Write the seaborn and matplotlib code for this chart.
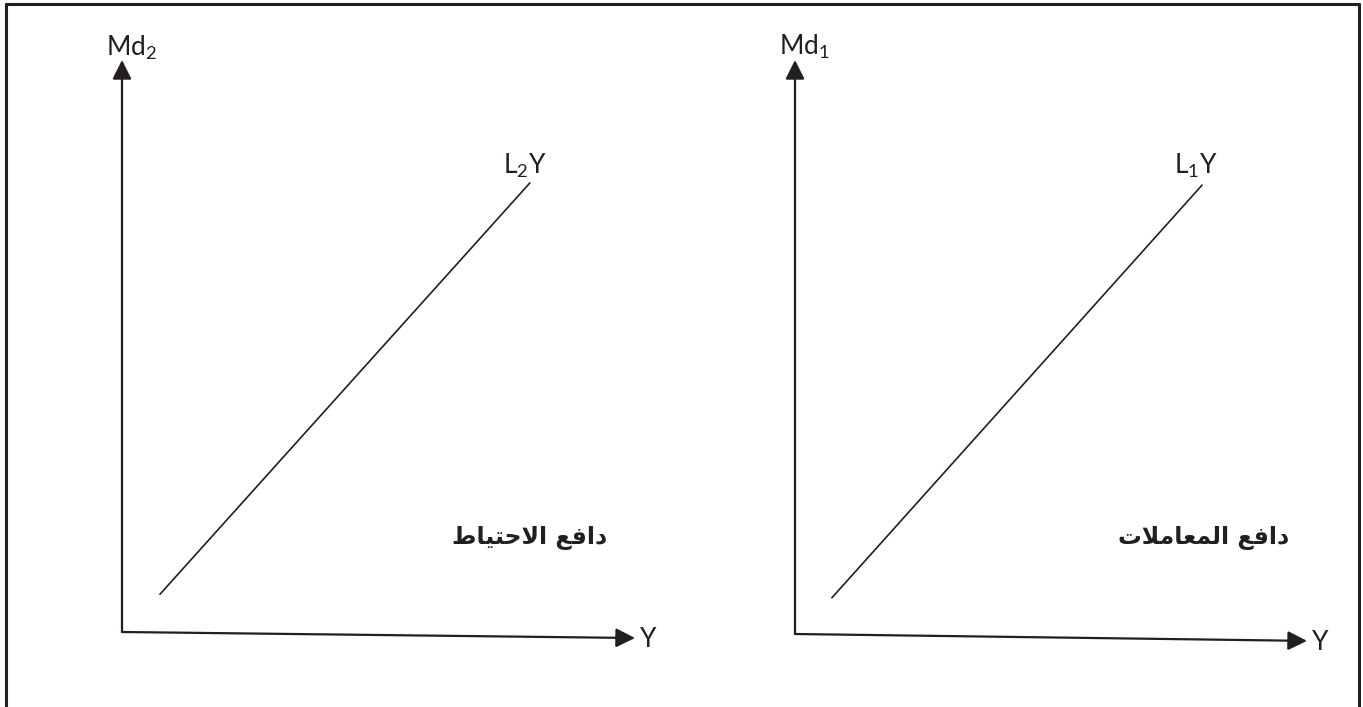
import matplotlib
matplotlib.use("Agg")
import matplotlib.pyplot as plt
import seaborn as sns
from matplotlib.lines import Line2D

# Data: liquidity preference lines  Md = L * Y
income_1 = [0.072, 0.795]
md_1 = [0.063, 0.782]
income_2 = [0.074, 0.795]
md_2 = [0.066, 0.785]

# x-axis drift of the hand drawn axes (y value at the arrow tip)
axis_drift = [-0.0105, -0.012]

y_labels = ["Md$_2$", "Md$_1$"]
line_labels = ["L$_2$Y", "L$_1$Y"]
x_label = "Y"
motive_labels = ["دافع الاحتياط", "دافع المعاملات"]

INK = "#231f20"

# Arabic presentation forms: isolated, final, initial, medial
FORMS = {
    "ا": (0xFE8D, 0xFE8E, None, None),
    "د": (0xFEA9, 0xFEAA, None, None),
    "ف": (0xFED1, 0xFED2, 0xFED3, 0xFED4),
    "ع": (0xFEC9, 0xFECA, 0xFECB, 0xFECC),
    "ل": (0xFEDD, 0xFEDE, 0xFEDF, 0xFEE0),
    "ح": (0xFEA1, 0xFEA2, 0xFEA3, 0xFEA4),
    "ت": (0xFE95, 0xFE96, 0xFE97, 0xFE98),
    "ي": (0xFEF1, 0xFEF2, 0xFEF3, 0xFEF4),
    "ط": (0xFEC1, 0xFEC2, 0xFEC3, 0xFEC4),
    "م": (0xFEE1, 0xFEE2, 0xFEE3, 0xFEE4),
}


def shape_arabic(text):
    out = []
    i = 0
    while i < len(text):
        ch = text[i]
        if ch not in FORMS:
            out.append(ch)
            i += 1
            continue
        prev = text[i - 1] if i > 0 else ""
        joins_prev = prev in FORMS and FORMS[prev][2] is not None
        nxt = text[i + 1] if i + 1 < len(text) else ""
        if ch == "ل" and nxt == "ا":
            out.append(chr(0xFEFC if joins_prev else 0xFEFB))
            i += 2
            continue
        joins_next = FORMS[ch][2] is not None and nxt in FORMS
        iso, fin, ini, med = FORMS[ch]
        if joins_prev and joins_next:
            code = med
        elif joins_prev:
            code = fin
        elif joins_next:
            code = ini
        else:
            code = iso
        out.append(chr(code))
        i += 1
    return "".join(reversed(out))


sns.set_theme(style="white")
plt.rcParams["font.family"] = ["Lato", "DejaVu Sans"]
plt.rcParams["mathtext.default"] = "regular"

W, H = 1363, 707
fig = plt.figure(figsize=(W / 100, H / 100), dpi=100)

# origin pixel, x tip pixel, y tip pixel for each panel
panels = [
    dict(origin=(122, 632), xtip=635, ytip=60, x=income_2, y=md_2, i=0,
         lab=(0.786, 0.818), mot=(0.795, 0.164)),
    dict(origin=(795, 634), xtip=1307, ytip=60, x=income_1, y=md_1, i=1,
         lab=(0.783, 0.819), mot=(0.797, 0.167)),
]

for p in panels:
    ox, oy = p["origin"]
    ax = fig.add_axes([ox / W, (H - oy) / H, (p["xtip"] - ox) / W, (oy - p["ytip"]) / H])
    ax.set_xlim(0, 1)
    ax.set_ylim(0, 1)
    ax.axis("off")
    i = p["i"]
    arrow = dict(arrowstyle="-|>", color=INK, lw=1.6, mutation_scale=29,
                 shrinkA=0, shrinkB=0)
    ax.annotate("", xy=(0, 1), xytext=(0, 0), arrowprops=arrow, annotation_clip=False)
    ax.annotate("", xy=(1, axis_drift[i]), xytext=(0, 0), arrowprops=arrow,
                annotation_clip=False)
    sns.lineplot(x=p["x"], y=p["y"], ax=ax, color=INK, lw=1.2)
    ax.text(0.018, 1.022, y_labels[i], ha="center", va="center", fontsize=19, color=INK)
    ax.text(p["lab"][0], p["lab"][1] - 0.004, line_labels[i], ha="center", va="center",
            fontsize=19, color=INK)
    ax.text(1.01, axis_drift[i] - 0.002, x_label, ha="left", va="center",
            fontsize=19, color=INK)
    ax.text(p["mot"][0], p["mot"][1], shape_arabic(motive_labels[i]), ha="center",
            va="center", fontsize=17, fontweight="bold", color=INK,
            family=["DejaVu Sans"])

# outer frame (bottom edge lies outside the picture)
frame = dict(color=INK, lw=2.2, transform=fig.transFigure)
fig.add_artist(Line2D([6 / W, 6 / W], [0, 1 - 4 / H], **frame))
fig.add_artist(Line2D([1359 / W, 1359 / W], [0, 1 - 4 / H], **frame))
fig.add_artist(Line2D([6 / W, 1359 / W], [1 - 4 / H, 1 - 4 / H], **frame))

fig.savefig("out.png", dpi=100)
